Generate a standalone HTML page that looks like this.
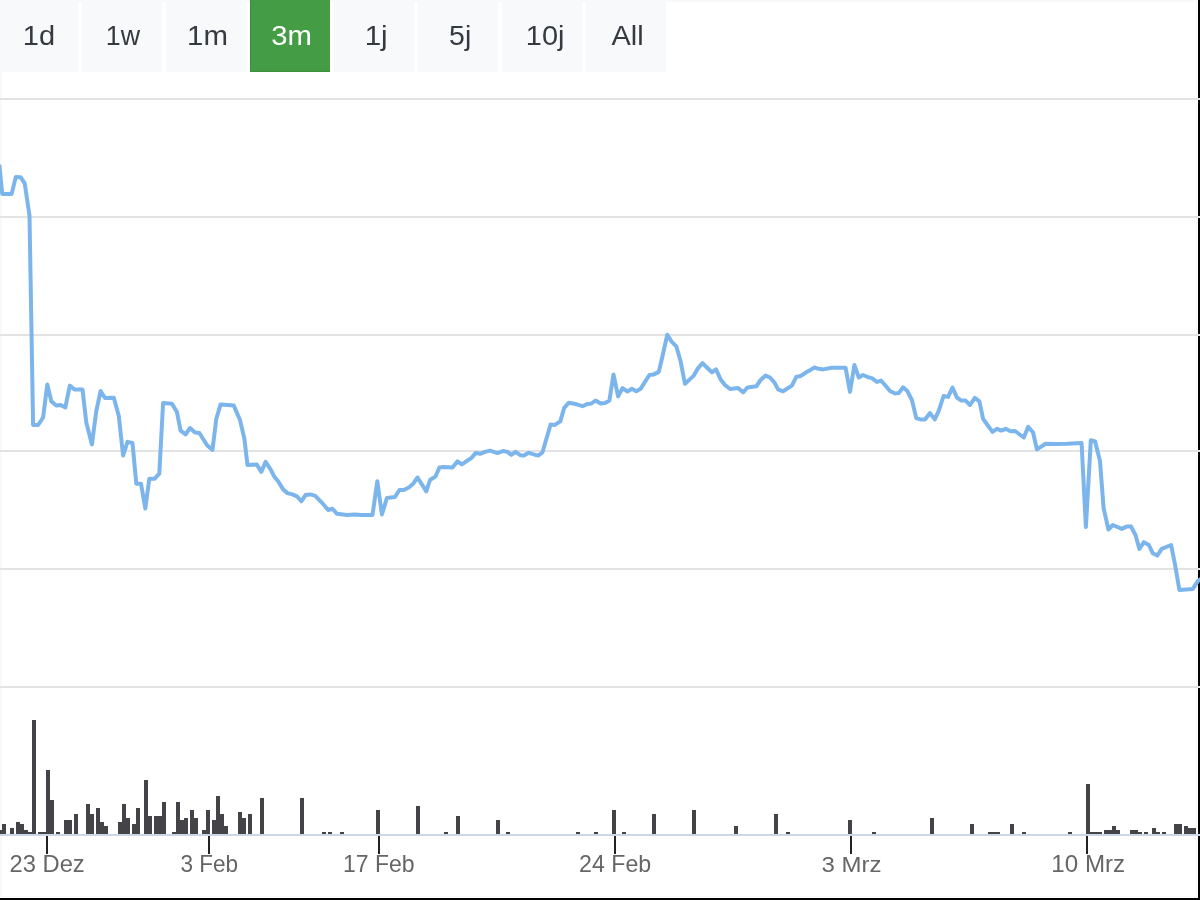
<!DOCTYPE html>
<html><head><meta charset="utf-8"><style>
html,body{margin:0;padding:0;}
body{width:1200px;height:900px;background:#000;position:relative;overflow:hidden;font-family:"Liberation Sans",sans-serif;}
#wrap{position:absolute;left:0;top:0;width:1198px;height:898px;background:#fff;overflow:visible;}
.sl{position:absolute;background:#f8f9fa;}
.btn{position:absolute;top:0;width:80px;height:72px;background:#f8f9fa;color:#343a40;font-size:27px;line-height:72px;text-align:center;}
.btn.act{background:#449d44;color:#fff;box-shadow:inset 1px 0 0 #3d8f3d,inset 0 -1px 0 #3d8f3d;}
svg{position:absolute;left:0;top:0;overflow:visible;}
svg text{font-family:"Liberation Sans",sans-serif;}
svg{will-change:transform;}
.lb{font-size:23px;fill:#666;}
.bt{font-size:28px;}
#top{position:absolute;left:0;top:0;overflow:visible;}
</style></head><body>
<div id="wrap">
<div class="sl" style="left:0;top:0;width:2px;height:897px"></div>
<div class="sl" style="left:0;top:0;width:1197px;height:2px"></div>
<div class="sl" style="left:1196px;top:0;width:1px;height:897px"></div>
<div class="sl" style="left:0;top:896px;width:1197px;height:1px"></div>
<svg width="1200" height="900" viewBox="0 0 1200 900">
<rect x="0" y="98" width="1200" height="2" fill="#e3e3e3"/><rect x="0" y="216" width="1200" height="2" fill="#e3e3e3"/><rect x="0" y="334" width="1200" height="2" fill="#e3e3e3"/><rect x="0" y="450" width="1200" height="2" fill="#e3e3e3"/><rect x="0" y="568" width="1200" height="2" fill="#e3e3e3"/><rect x="0" y="686" width="1200" height="2" fill="#e3e3e3"/>
<rect x="0" y="834" width="1200" height="2" fill="#ccd6eb"/>
<path d="M0 830h2V834H0ZM2 824h4V834H2ZM10 828h4V834H10ZM16 822h4V834H16ZM20 824h4V834H20ZM24 830h4V834H24ZM28 832h4V834H28ZM32 720h4V834H32ZM38 832h4V834H38ZM42 832h4V834H42ZM46 770h4V834H46ZM50 800h4V834H50ZM56 832h4V834H56ZM64 820h4V834H64ZM68 820h4V834H68ZM74 814h4V834H74ZM86 804h4V834H86ZM90 814h4V834H90ZM96 808h4V834H96ZM100 822h4V834H100ZM104 826h4V834H104ZM118 822h4V834H118ZM122 804h4V834H122ZM126 818h4V834H126ZM132 824h4V834H132ZM136 808h4V834H136ZM144 780h4V834H144ZM148 816h4V834H148ZM154 816h4V834H154ZM158 816h4V834H158ZM162 802h4V834H162ZM172 832h4V834H172ZM176 802h4V834H176ZM180 820h4V834H180ZM184 818h4V834H184ZM190 810h4V834H190ZM194 818h4V834H194ZM202 830h4V834H202ZM206 810h4V834H206ZM212 820h4V834H212ZM216 796h4V834H216ZM220 814h4V834H220ZM224 826h4V834H224ZM238 812h4V834H238ZM242 818h4V834H242ZM248 814h4V834H248ZM260 798h4V834H260ZM300 798h4V834H300ZM322 832h4V834H322ZM328 832h4V834H328ZM340 832h4V834H340ZM376 810h4V834H376ZM416 806h4V834H416ZM444 832h4V834H444ZM456 816h4V834H456ZM496 820h4V834H496ZM506 832h4V834H506ZM576 832h4V834H576ZM594 832h4V834H594ZM612 810h4V834H612ZM622 832h4V834H622ZM652 814h4V834H652ZM692 810h4V834H692ZM734 826h4V834H734ZM774 814h4V834H774ZM786 832h4V834H786ZM848 820h4V834H848ZM872 832h4V834H872ZM930 818h4V834H930ZM970 824h4V834H970ZM988 832h12V834H988ZM1010 824h4V834H1010ZM1022 832h4V834H1022ZM1068 832h4V834H1068ZM1086 784h4V834H1086ZM1090 832h10V834H1090ZM1100 832h2V834H1100ZM1104 830h8V834H1104ZM1112 826h4V834H1112ZM1116 830h4V834H1116ZM1130 830h8V834H1130ZM1138 832h4V834H1138ZM1144 832h4V834H1144ZM1152 828h4V834H1152ZM1156 832h4V834H1156ZM1162 832h4V834H1162ZM1174 824h8V834H1174ZM1184 826h4V834H1184ZM1188 828h8V834H1188Z" fill="#434348" shape-rendering="crispEdges"/>
<rect x="46" y="836" width="2" height="18" fill="#222"/><rect x="208" y="836" width="2" height="18" fill="#222"/><rect x="378" y="836" width="2" height="18" fill="#222"/><rect x="614" y="836" width="2" height="18" fill="#222"/><rect x="850" y="836" width="2" height="18" fill="#222"/><rect x="1086" y="836" width="2" height="18" fill="#222"/>
<path d="M-0.5 166 L2.2 193.9 L11.7 193.9 L15.8 176.9 L20.6 177.2 L24.7 183.3 L29.5 215.6 L33.1 425 L38.1 425 L43.1 417.5 L47.3 384.4 L51.3 401.3 L56.3 405.6 L60.6 405 L65.3 407.5 L69.8 385.6 L74.4 389.4 L82.5 389.4 L86.3 422.5 L91.9 444.4 L96.3 411 L100.6 391 L105 398 L113.8 397.8 L118.8 416 L123.1 455.6 L127.5 441.9 L132.5 443 L136.3 483.7 L141 483.7 L145.3 508.5 L149.3 478.7 L154.7 478.7 L159.3 473.7 L163.1 403 L171.9 403.8 L176.9 411.9 L180.6 430.6 L185.6 434.4 L190 428 L195 432.5 L199.4 433 L206.9 445 L212.5 450 L216.3 418.8 L220.6 404.4 L233.8 405.6 L240 420 L244.4 438.8 L247.5 465 L256.9 464.6 L261.3 471.9 L265.6 461.9 L270.6 469.4 L274.4 476.9 L278.1 481.3 L283.1 489.4 L287.5 493.1 L292.5 494.4 L296.9 496.3 L301.3 501.3 L305.6 495 L310 494.4 L315 495.6 L320.6 501.3 L325 506.3 L328.1 510 L332.5 508.8 L336.9 513.8 L346.9 515 L355 514.4 L361.3 515 L372.5 515 L377.3 481.3 L381.9 514.4 L386.9 498.1 L395 497 L399.4 490 L403.8 490 L408.8 487.5 L413.1 483.8 L417.5 477.5 L426.3 491.3 L430 480 L435.6 476.3 L439.4 467.5 L443.8 466.9 L452.5 467.5 L457.5 461.3 L461.9 464.4 L466.3 461.3 L471.3 458.1 L475.6 453.1 L480 453.8 L485 451.9 L490 450.6 L497.5 453.1 L503.1 451 L507.5 451.9 L511.3 454.8 L515.6 451.9 L520.6 455.3 L523.8 455.6 L528.8 452.8 L533.8 454.4 L538.1 455.6 L542.4 452.5 L550.6 424.5 L554.9 424.9 L560.3 421.4 L564.2 407.8 L568.9 402.7 L576.7 404.3 L582.5 406.2 L587.5 403.9 L591.4 403.5 L595.5 400.5 L600.6 403.5 L605 403.1 L609.4 400.6 L613.5 374.4 L618.1 396.3 L622.5 388.1 L627.5 391.5 L631.9 388.8 L636.3 391.3 L640.6 388.8 L645 381.9 L649.4 375 L653.8 374.4 L658.8 371.9 L661.9 358.8 L667.3 334.8 L671.6 341.6 L676.3 346.3 L680.6 361.3 L685 383.8 L693.8 375.6 L698.1 368.1 L702.5 363.1 L706.9 367.5 L711.9 372.3 L716 369.4 L720.6 379.4 L725 385 L730 389 L738.1 388.1 L743.1 392.3 L747.5 387.5 L756.3 386.3 L760.6 380 L765.6 375.6 L770 377.5 L774.4 382.5 L778.1 389.4 L783.1 391.3 L791.9 385.6 L796.3 376.9 L800.6 376 L805 373.1 L809.4 370.6 L814.4 367.5 L818.8 368.8 L823.1 369.4 L831.9 367.8 L845.6 367.8 L850 391.9 L854.4 365 L858.8 377.5 L863.1 375 L868.1 377.3 L871.9 378.1 L876.9 381.9 L881 380.6 L885 385 L890 391 L895 393.5 L898.8 393.1 L903.1 387.3 L907.5 391.3 L911.9 400 L916.3 418.1 L920.6 419.4 L925 419.4 L930 413.1 L934.8 419.4 L938.8 410.6 L943.6 396 L948.1 396.9 L952.5 387.5 L956.9 397.5 L961.3 400.6 L965.6 400.6 L970 405 L974.8 397.8 L979.4 401.3 L983.1 418.8 L987.5 425 L992.5 431.9 L996.9 428.8 L1001.3 430.6 L1005.6 428.8 L1010.6 431.3 L1015 431 L1023.8 437.5 L1028.1 426.9 L1033.1 432.5 L1036.9 449.4 L1045.6 443.8 L1055 444 L1067.5 443.8 L1081.6 443.1 L1085.9 527.1 L1090.8 440.3 L1095.1 441.5 L1100 461.1 L1103.6 508.1 L1108.4 529.5 L1112.8 525 L1121.8 528.9 L1126.5 526.6 L1131.1 526.6 L1135.5 535 L1139.4 548.9 L1143.9 542.2 L1148.9 545 L1152.8 553.3 L1157.2 555.6 L1161.7 548.9 L1171.1 545 L1175 564.4 L1179.4 590 L1192.8 588.9 L1197.8 581.1 L1202 578" fill="none" stroke="#7cb5ec" stroke-width="4" stroke-linejoin="round" stroke-linecap="round"/>
<text class="lb" x="47" y="872" text-anchor="middle" transform="translate(47.65 0) scale(1.0324 1) translate(-47.50 0)">23 Dez</text><text class="lb" x="209" y="872" text-anchor="middle" transform="translate(208.75 0) scale(0.9807 1) translate(-208.50 0)">3 Feb</text><text class="lb" x="379" y="872" text-anchor="middle" transform="translate(379.27 0) scale(0.9993 1) translate(-379.50 0)">17 Feb</text><text class="lb" x="615" y="872" text-anchor="middle" transform="translate(615.10 0) scale(1.0086 1) translate(-615.00 0)">24 Feb</text><text class="lb" x="851" y="872" text-anchor="middle" transform="translate(851.55 0) scale(1.0446 1) translate(-851.00 0)">3 Mrz</text><text class="lb" x="1087" y="872" text-anchor="middle" transform="translate(1088.25 0) scale(1.0515 1) translate(-1087.00 0)">10 Mrz</text>
</svg>
<div class="btn" style="left:-2px"></div><div class="btn" style="left:82px"></div><div class="btn" style="left:166px"></div><div class="btn act" style="left:250px"></div><div class="btn" style="left:334px"></div><div class="btn" style="left:418px"></div><div class="btn" style="left:502px"></div><div class="btn" style="left:586px"></div>
<svg id="top" width="700" height="80"><text class="bt" x="38" y="45" text-anchor="middle" fill="#343a40" transform="translate(39.50 0) scale(1.0370 1) translate(-38.50 0)">1d</text><text class="bt" x="122" y="45" text-anchor="middle" fill="#343a40" transform="translate(123.90 0) scale(0.9588 1) translate(-123.00 0)">1w</text><text class="bt" x="206" y="45" text-anchor="middle" fill="#343a40" transform="translate(207.45 0) scale(1.0500 1) translate(-206.00 0)">1m</text><text class="bt" x="290" y="45" text-anchor="middle" fill="#fff" transform="translate(291.00 0) scale(1.0457 1) translate(-289.50 0)">3m</text><text class="bt" x="374" y="45" text-anchor="middle" fill="#343a40" transform="translate(376.20 0) scale(1.0556 1) translate(-374.00 0)">1j</text><text class="bt" x="458" y="45" text-anchor="middle" fill="#343a40" transform="translate(459.65 0) scale(1.0158 1) translate(-457.50 0)">5j</text><text class="bt" x="542" y="45" text-anchor="middle" fill="#343a40" transform="translate(545.15 0) scale(1.0324 1) translate(-542.00 0)">10j</text><text class="bt" x="626" y="45" text-anchor="middle" fill="#343a40" transform="translate(627.00 0) scale(1.0345 1) translate(-625.50 0)">All</text></svg>
</div>
</body></html>
